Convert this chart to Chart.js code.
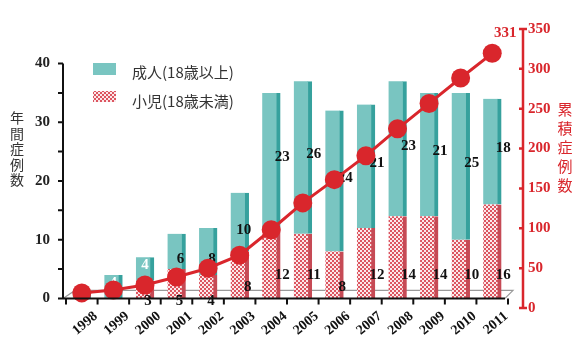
<!DOCTYPE html>
<html><head><meta charset="utf-8">
<script src="https://cdn.jsdelivr.net/npm/chart.js@4/dist/chart.umd.min.js"></script>
<style>html,body{margin:0;padding:0;background:#fff;overflow:hidden}#wrap{width:573px;height:342px;position:relative}</style>
</head><body><div id="wrap"><canvas id="c" width="573" height="342"></canvas></div>
<script>
// ---- data ----
const years = ['1998','1999','2000','2001','2002','2003','2004','2005','2006','2007','2008','2009','2010','2011'];
const adult = [1,4,4,6,8,10,23,26,24,21,23,21,25,18];
const child = [0,0,3,5,4,8,12,11,8,12,14,14,10,16];
const cumulative = [1,5,12,23,35,53,88,125,157,190,227,262,297,331];
const leftTicks = [0,5,10,15,20,25,30,35,40];
const rightTicks = [0,50,100,150,200,250,300,350];
const seriesNames = ['成人(18歳以上)','小児(18歳未満)','累積症例数'];
const leftTitle = '年間症例数';
const rightTitle = '累積症例数';

// ---- styles ----
const TEAL = '#79c5c1', TEAL_SIDE = '#36a19d';
const RED = '#d9262c';
const SERIF = '"Liberation Serif", "DejaVu Serif", serif';
const CJK = '"Noto Sans CJK JP", "Noto Sans", sans-serif';

const pc = document.createElement('canvas'); pc.width = 4; pc.height = 4;
const pg = pc.getContext('2d');
pg.fillStyle = '#fbe8ea'; pg.fillRect(0,0,4,4);
pg.fillStyle = '#dc5560'; pg.fillRect(0,0,2,2); pg.fillRect(2,2,2,2);
const childPattern = pg.createPattern(pc, 'repeat');

const decor = {
  id: 'decor',
  beforeDatasetsDraw(chart) {
    const ctx = chart.ctx, ca = chart.chartArea, y = chart.scales.y;
    const y0 = y.getPixelForValue(0);
    ctx.save();
    ctx.strokeStyle = '#9a9a9a'; ctx.lineWidth = 1.2;
    ctx.beginPath();
    ctx.moveTo(ca.left - 3, y0); ctx.lineTo(ca.left + 9, y0 - 8);
    ctx.lineTo(ca.right + 5, y0 - 8); ctx.lineTo(ca.right - 3, y0);
    ctx.stroke();
    ctx.restore();
  },
  afterDatasetDraw(chart, args) {
    if (args.index !== 0) return;
    const ctx = chart.ctx, y = chart.scales.y;
    const mc = chart.getDatasetMeta(0), ma = chart.getDatasetMeta(1);
    ctx.save();
    ctx.font = 'bold 15px ' + SERIF;
    ctx.textAlign = 'center'; ctx.textBaseline = 'middle';
    for (let i = 0; i < years.length; i++) {
      const a = ma.data[i], c = mc.data[i];
      const av = adult[i], cv = child[i];
      if (av > 0) {
        if (av <= 4) {
          ctx.fillStyle = '#ffffff';
          ctx.fillText(String(av), a.x, a.y + 8);
        } else {
          ctx.fillStyle = '#111';
          const mid = (a.y + a.base) / 2;
          ctx.fillText(String(av), a.x + (av <= 10 ? 4 : 11), mid + (av <= 10 ? 8 : -3));
        }
      }
      if (cv > 0) {
        ctx.fillStyle = '#111';
        let ly, lx;
        if (cv >= 10) { ly = y.getPixelForValue(4); lx = c.x + 11; }
        else if (cv >= 6) { ly = y.getPixelForValue(2); lx = c.x + 8; }
        else { ly = y.getPixelForValue(0) + 3; lx = c.x + 3; }
        ctx.fillText(String(cv), lx, ly);
      }
    }
    ctx.restore();
  },
  afterDraw(chart) {
    const ctx = chart.ctx, ca = chart.chartArea;
    const y = chart.scales.y, y2 = chart.scales.y2, x = chart.scales.x;
    ctx.save();
    // left axis
    const lx = ca.left - 3;
    ctx.strokeStyle = '#111'; ctx.lineWidth = 2;
    ctx.beginPath();
    ctx.moveTo(lx, y.getPixelForValue(0)); ctx.lineTo(lx, y.getPixelForValue(40));
    leftTicks.forEach(v => { const p = y.getPixelForValue(v); ctx.moveTo(lx - 5, p); ctx.lineTo(lx, p); });
    ctx.stroke();
    // x axis
    const y0 = y.getPixelForValue(0);
    const step = x.getPixelForValue(1) - x.getPixelForValue(0);
    ctx.beginPath();
    ctx.moveTo(lx, y0); ctx.lineTo(ca.right - 3, y0);
    for (let i = 0; i <= years.length; i++) {
      const px = x.getPixelForValue(0) - step / 2 + i * step;
      ctx.moveTo(px, y0); ctx.lineTo(px, y0 + 6);
    }
    ctx.stroke();
    // right axis
    const rx = ca.right + 15;
    ctx.strokeStyle = RED; ctx.lineWidth = 2.5;
    ctx.beginPath();
    ctx.moveTo(rx + 4, y2.getPixelForValue(350)); ctx.lineTo(rx, y2.getPixelForValue(350));
    ctx.lineTo(rx, y2.getPixelForValue(0)); ctx.lineTo(rx + 4, y2.getPixelForValue(0));
    rightTicks.forEach(v => { const p = y2.getPixelForValue(v); ctx.moveTo(rx - 4, p); ctx.lineTo(rx, p); });
    ctx.stroke();
    // legend
    ctx.fillStyle = TEAL; ctx.fillRect(93, 63, 23, 12);
    ctx.fillStyle = childPattern; ctx.fillRect(93, 91, 23, 11);
    ctx.fillStyle = '#333'; ctx.font = '15px ' + CJK;
    ctx.textAlign = 'left'; ctx.textBaseline = 'middle';
    ctx.fillText(seriesNames[0], 132, 72);
    ctx.fillText(seriesNames[1], 132, 101);
    // axis titles (vertical)
    ctx.textAlign = 'center';
    ctx.font = '14px ' + CJK; ctx.fillStyle = '#333';
    [...leftTitle].forEach((ch, k) => ctx.fillText(ch, 17, 118 + k * 15.5));
    ctx.font = '15px ' + CJK; ctx.fillStyle = RED;
    [...rightTitle].forEach((ch, k) => ctx.fillText(ch, 565, 109 + k * 19));
    // last value label
    const ml = chart.getDatasetMeta(2);
    const last = ml.data[ml.data.length - 1];
    ctx.font = 'bold 15px ' + SERIF; ctx.fillStyle = RED;
    ctx.fillText(String(cumulative[cumulative.length - 1]), last.x + 13, last.y - 20);
    ctx.restore();
  }
};

new Chart(document.getElementById('c'), {
  data: {
    labels: years,
    datasets: [
      { type: 'bar', label: seriesNames[1], data: child, yAxisID: 'y', order: 1,
        backgroundColor: childPattern, borderColor: '#c64a55', borderWidth: {right: 4, top: 0, left: 0, bottom: 0},
        borderSkipped: false, barThickness: 18 },
      { type: 'bar', label: seriesNames[0], data: adult, yAxisID: 'y', order: 1,
        backgroundColor: TEAL, borderColor: TEAL_SIDE, borderWidth: {right: 4, top: 0, left: 0, bottom: 0},
        borderSkipped: false, barThickness: 18 },
      { type: 'line', label: seriesNames[2], data: cumulative, yAxisID: 'yl', order: 0,
        borderColor: RED, backgroundColor: RED, borderWidth: 3, tension: 0,
        pointRadius: 9.5, pointBackgroundColor: RED, pointBorderWidth: 0, clip: false }
    ]
  },
  options: {
    responsive: false, animation: false, devicePixelRatio: 1,
    layout: { padding: { top: 17, left: 0, right: 0, bottom: 0 } },
    plugins: { legend: { display: false }, tooltip: { enabled: false } },
    scales: {
      x: {
        stacked: true, offset: true,
        grid: { display: false, drawTicks: false }, border: { display: false },
        ticks: { font: { family: SERIF, size: 14, weight: 'bold' }, color: '#111',
          minRotation: 40, maxRotation: 40, autoSkip: false, labelOffset: 14, padding: 0 },
        afterFit(s) { s.height = 34; }
      },
      y: {
        position: 'left', stacked: true, min: -1.633, max: 45.878,
        grid: { display: false, drawTicks: false }, border: { display: false },
        afterBuildTicks(s) { s.ticks = leftTicks.map(v => ({ value: v })); },
        ticks: { font: { family: SERIF, size: 15, weight: 'bold' }, color: '#222', padding: 16,
          callback: v => (v % 10 === 0 ? v : '') },
        afterFit(s) { s.width = 66; }
      },
      y2: {
        position: 'right', min: 0, max: 350,
        grid: { display: false, drawTicks: false }, border: { display: false },
        afterBuildTicks(s) { s.ticks = rightTicks.map(v => ({ value: v })); },
        ticks: { font: { family: SERIF, size: 15, weight: 'bold' }, color: RED, padding: 20 },
        afterFit(s) { s.width = 65; }
      },
      yl: { display: false, position: 'right', min: -19.81, max: 364.53 }
    }
  },
  plugins: [decor]
});
</script>
</body></html>
